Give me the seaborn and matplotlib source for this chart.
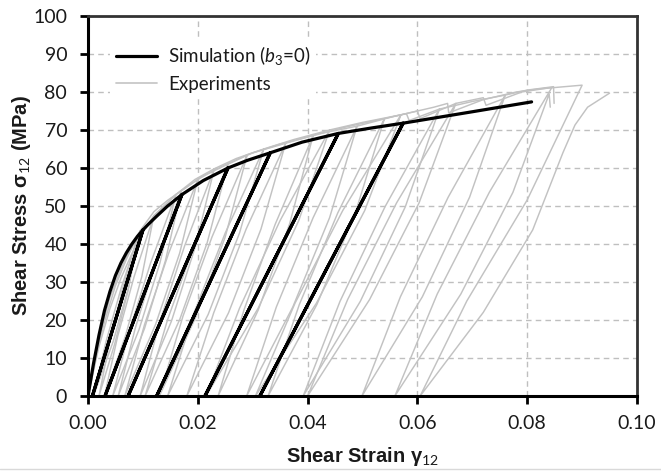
import matplotlib
matplotlib.use("Agg")
import matplotlib.pyplot as plt
import numpy as np
import pandas as pd
import seaborn as sns
from matplotlib.lines import Line2D

# ---------------- data (strain, stress MPa) ----------------
# Simulation (b3=0): loading envelope with straight unload/reload lines
simulation = [
    (0.0, 0.0), (0.001, 8.5), (0.002, 16.0), (0.003, 22.5), (0.004, 27.5), (0.005, 31.7),
    (0.006, 35.0), (0.007, 37.7), (0.008, 40.0), (0.009, 42.0), (0.010, 43.7),
    (0.0008, 0.0), (0.010, 43.7),
    (0.011, 45.2), (0.0125, 47.3), (0.0145, 50.0), (0.0171, 53.0),
    (0.0031, 0.0), (0.0171, 53.0),
    (0.021, 56.7), (0.0255, 60.0),
    (0.0073, 0.0), (0.0255, 60.0),
    (0.029, 62.0), (0.0332, 64.0),
    (0.0125, 0.0), (0.0332, 64.0),
    (0.039, 66.8), (0.0456, 69.1),
    (0.0213, 0.0), (0.0456, 69.1),
    (0.0515, 70.5), (0.0574, 71.8),
    (0.0313, 0.0), (0.0574, 71.8),
    (0.070, 74.8), (0.0808, 77.4),
]

experiment_1 = [
    (0.0, 0.0), (0.002, 15.0), (0.004, 26.0), (0.006, 33.5), (0.008, 39.5), (0.0095, 43.5),
    (0.0061, 28.7), (0.0033, 14.4), (0.001, 0.0), (0.0046, 14.4), (0.0074, 28.7), (0.0095, 43.5),
    (0.012, 48.5), (0.0145, 51.5), (0.017, 54.0),
    (0.0124, 35.6), (0.0086, 17.8), (0.0055, 0.0), (0.0103, 17.8), (0.0141, 35.6), (0.017, 54.0),
    (0.021, 58.0), (0.0255, 61.0),
    (0.0195, 40.3), (0.0145, 20.1), (0.0104, 0.0), (0.0167, 20.1), (0.0217, 40.3), (0.0255, 61.0),
    (0.030, 64.0), (0.036, 66.5),
    (0.0288, 43.9), (0.0229, 21.9), (0.018, 0.0), (0.0256, 21.9), (0.0315, 43.9), (0.036, 66.5),
    (0.042, 69.0), (0.049, 71.0),
    (0.041, 46.9), (0.0343, 23.4), (0.0289, 0.0), (0.0373, 23.4), (0.044, 46.9), (0.049, 71.0),
    (0.0555, 73.5), (0.058, 74.3), (0.0585, 72.5), (0.064, 75.5),
    (0.0541, 49.8), (0.0459, 24.9), (0.0392, 0.0), (0.0496, 24.9), (0.0578, 49.8), (0.064, 75.5),
    (0.070, 77.5), (0.076, 79.2),
    (0.0656, 52.3), (0.0569, 26.1), (0.0499, 0.0), (0.0609, 26.1), (0.0695, 52.3), (0.076, 79.2),
    (0.080, 80.5), (0.0848, 81.4), (0.0849, 77.0),
]

experiment_2 = [
    (0.0, 0.0), (0.002, 13.0), (0.004, 23.0), (0.006, 31.0), (0.008, 37.5), (0.010, 43.0), (0.012, 47.5),
    (0.0084, 31.4), (0.0054, 15.7), (0.003, 0.0), (0.0068, 15.7), (0.0098, 31.4), (0.012, 47.5),
    (0.016, 53.0), (0.020, 57.0),
    (0.0147, 37.6), (0.0103, 18.8), (0.0067, 0.0), (0.0123, 18.8), (0.0167, 37.6), (0.020, 57.0),
    (0.0245, 60.5), (0.029, 63.5),
    (0.0226, 41.9), (0.0173, 21.0), (0.013, 0.0), (0.0197, 21.0), (0.025, 41.9), (0.029, 63.5),
    (0.035, 66.3), (0.041, 68.5),
    (0.0341, 45.2), (0.0284, 22.6), (0.0237, 0.0), (0.031, 22.6), (0.0367, 45.2), (0.041, 68.5),
    (0.047, 70.8), (0.054, 73.0),
    (0.0455, 48.2), (0.0385, 24.1), (0.0328, 0.0), (0.0417, 24.1), (0.0487, 48.2), (0.054, 73.0),
    (0.060, 75.0), (0.0605, 73.0), (0.067, 77.0),
    (0.0562, 50.8), (0.0473, 25.4), (0.040, 0.0), (0.0513, 25.4), (0.0603, 50.8), (0.067, 77.0),
    (0.072, 78.5), (0.0725, 76.5), (0.079, 80.0), (0.0845, 81.2),
    (0.0731, 53.6), (0.0636, 26.8), (0.0559, 0.0), (0.0679, 26.8), (0.0774, 53.6), (0.084, 79.5),
    (0.0842, 76.0),
]

experiment_3 = [
    (0.0, 0.0), (0.0015, 11.0), (0.003, 19.5), (0.005, 29.0), (0.007, 36.0), (0.009, 42.0),
    (0.0062, 27.7), (0.0039, 13.9), (0.002, 0.0), (0.0049, 13.9), (0.0073, 27.7), (0.009, 42.0),
    (0.0125, 48.0), (0.016, 53.0),
    (0.0114, 35.0), (0.0076, 17.5), (0.0045, 0.0), (0.0093, 17.5), (0.0131, 35.0), (0.016, 53.0),
    (0.0195, 57.0), (0.023, 59.8),
    (0.0176, 39.5), (0.0131, 19.7), (0.0095, 0.0), (0.0152, 19.7), (0.0196, 39.5), (0.023, 59.8),
    (0.027, 62.5), (0.032, 65.0),
    (0.025, 42.9), (0.0192, 21.5), (0.0145, 0.0), (0.0219, 21.5), (0.0276, 42.9), (0.032, 65.0),
    (0.0375, 67.5), (0.044, 70.0),
    (0.035, 46.2), (0.0276, 23.1), (0.0215, 0.0), (0.031, 23.1), (0.0384, 46.2), (0.044, 70.0),
    (0.050, 72.0), (0.057, 74.0),
    (0.0464, 48.8), (0.0377, 24.4), (0.0305, 0.0), (0.0416, 24.4), (0.0504, 48.8), (0.057, 74.0),
    (0.063, 76.0), (0.0655, 77.0), (0.0657, 74.5), (0.072, 78.0), (0.078, 80.0),
    (0.082, 80.8), (0.086, 81.3), (0.090, 81.8),
    (0.080, 51.6), (0.069, 25.0), (0.0605, 0.0), (0.072, 22.0), (0.081, 43.7),
    (0.0865, 64.0), (0.0887, 71.3), (0.091, 76.0), (0.095, 79.7),
]

experiments = [experiment_1, experiment_2, experiment_3]

x_ticks = [0.00, 0.02, 0.04, 0.06, 0.08, 0.10]
y_ticks = [0, 10, 20, 30, 40, 50, 60, 70, 80, 90, 100]
legend_labels = ["Simulation ($b_3$=0)", "Experiments"]
x_label = "Shear Strain γ$_{12}$"
y_label = "Shear Stress σ$_{12}$ (MPa)"

# ---------------- style ----------------
sns.set_theme(style="white")
plt.rcParams["font.family"] = ["Lato", "DejaVu Sans"]
plt.rcParams["mathtext.fontset"] = "custom"
plt.rcParams["mathtext.rm"] = "Lato"
plt.rcParams["mathtext.it"] = "Lato:italic"
plt.rcParams["mathtext.bf"] = "Lato:bold"

GREY = "#c2c2c2"
TXT = "#1a1a1a"

fig = plt.figure(figsize=(6.61, 4.72), dpi=100)
ax = fig.add_axes([88 / 661, 1 - 396 / 472, 549 / 661, 380 / 472])
ax.set_axisbelow(True)

for exp in experiments:
    df = pd.DataFrame(exp, columns=["strain", "stress"])
    sns.lineplot(data=df, x="strain", y="stress", sort=False, estimator=None,
                 color=GREY, lw=1.05, ax=ax, legend=False)

df_sim = pd.DataFrame(simulation, columns=["strain", "stress"])
sns.lineplot(data=df_sim, x="strain", y="stress", sort=False, estimator=None,
             color="black", lw=2.3, ax=ax, legend=False, zorder=5)

ax.set_xlim(0, 0.10)
ax.set_ylim(0, 100)
ax.set_xticks(x_ticks)
ax.set_xticklabels([f"{v:.2f}" for v in x_ticks])
ax.set_yticks(y_ticks)
ax.set_yticklabels([str(v) for v in y_ticks])
ax.tick_params(axis="both", which="major", direction="out", length=6, width=2,
               color="black", labelsize=14, labelcolor=TXT, bottom=True, left=True)
ax.tick_params(axis="x", pad=8)
ax.tick_params(axis="y", pad=9)

ax.grid(True, linestyle=(0, (4, 3)), color="#bfbfbf", lw=1)

for side in ["left", "bottom"]:
    ax.spines[side].set_color("black")
    ax.spines[side].set_linewidth(2.2)
for side in ["top", "right"]:
    ax.spines[side].set_color("#333333")
    ax.spines[side].set_linewidth(2.0)

ax.set_xlabel(x_label, fontsize=14.5, fontweight="bold", family=["Liberation Sans", "DejaVu Sans"],
              color=TXT, va="top")
ax.set_ylabel(y_label, fontsize=14.5, fontweight="bold", family=["Liberation Sans", "DejaVu Sans"],
              color=TXT)
ax.xaxis.set_label_coords(0.5, -0.128)
ax.yaxis.set_label_coords(-0.1, 0.5)

handles = [Line2D([], [], color="black", lw=2.3), Line2D([], [], color="#c8c8c8", lw=1.3)]
leg = ax.legend(handles, legend_labels, loc="upper left", bbox_to_anchor=(0.04, 0.94),
                frameon=True, facecolor="white", edgecolor="none", framealpha=1,
                fancybox=False, fontsize=13.5, handlelength=2.2, handletextpad=0.6,
                labelspacing=0.45, borderpad=0.3, borderaxespad=0)
for t in leg.get_texts():
    t.set_color(TXT)
leg.set_zorder(10)

fig.add_artist(Line2D([0, 1], [1 - 469 / 472, 1 - 469 / 472], color="#d9d9d9", lw=1,
                      transform=fig.transFigure))

fig.savefig("out.png", dpi=100, facecolor="white")
